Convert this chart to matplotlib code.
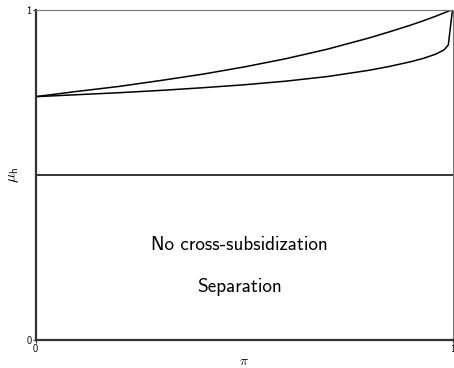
import matplotlib
matplotlib.use("Agg")
import matplotlib.pyplot as plt

plt.rcParams["font.family"] = ["cmss10", "DejaVu Sans"]
plt.rcParams["mathtext.fontset"] = "cm"
plt.rcParams["axes.unicode_minus"] = False

# Share of high types as a function of pi
pi_grid = [0.0, 0.1, 0.2, 0.3, 0.4, 0.5, 0.6, 0.7, 0.8, 0.85, 0.9, 0.93, 0.96, 0.98, 0.99, 1.0]
upper_bound = [0.736, 0.752, 0.767, 0.785, 0.804, 0.826, 0.851, 0.880, 0.914,
               0.933, 0.953, 0.966, 0.980, 0.990, 0.995, 1.0]
lower_bound = [0.736, 0.742, 0.748, 0.755, 0.763, 0.772, 0.783, 0.797, 0.816,
               0.828, 0.842, 0.852, 0.865, 0.878, 0.893, 1.0]
threshold = 0.5

region_labels = ["No cross-subsidization", "Separation"]
region_pos = [(0.49, 0.285), (0.49, 0.158)]

fig = plt.figure(figsize=(4.54, 3.68), dpi=100)
ax = fig.add_axes([0.0782, 0.0774, 0.9185, 0.8966])

ax.plot(pi_grid, upper_bound, color="black", lw=1.1, solid_capstyle="butt")
ax.plot(pi_grid, lower_bound, color="black", lw=1.1, solid_capstyle="butt")
ax.axhline(threshold, color="black", lw=1.1)

for txt, (x, y) in zip(region_labels, region_pos):
    ax.text(x, y, txt, ha="center", va="center", fontsize=13.8)

ax.set_xlim(0, 1)
ax.set_ylim(0, 1)
ax.set_xticks([0, 1])
ax.set_yticks([0, 1])
ax.set_xticklabels(["0", "1"])
ax.set_yticklabels(["0", "1"])
ax.tick_params(axis="both", labelsize=7.5, length=2, width=0.8, pad=1, color="#333333")

ax.set_xlabel(r"$\pi$", fontsize=10, labelpad=0)
ax.set_ylabel(r"$\mathsf{\mu_h}$", fontsize=11, labelpad=4)

for side in ("left", "bottom"):
    ax.spines[side].set_linewidth(1.6)
    ax.spines[side].set_color("#333333")
for side in ("top", "right"):
    ax.spines[side].set_linewidth(0.8)
    ax.spines[side].set_color("#777777")

fig.savefig("out.png", dpi=100)
